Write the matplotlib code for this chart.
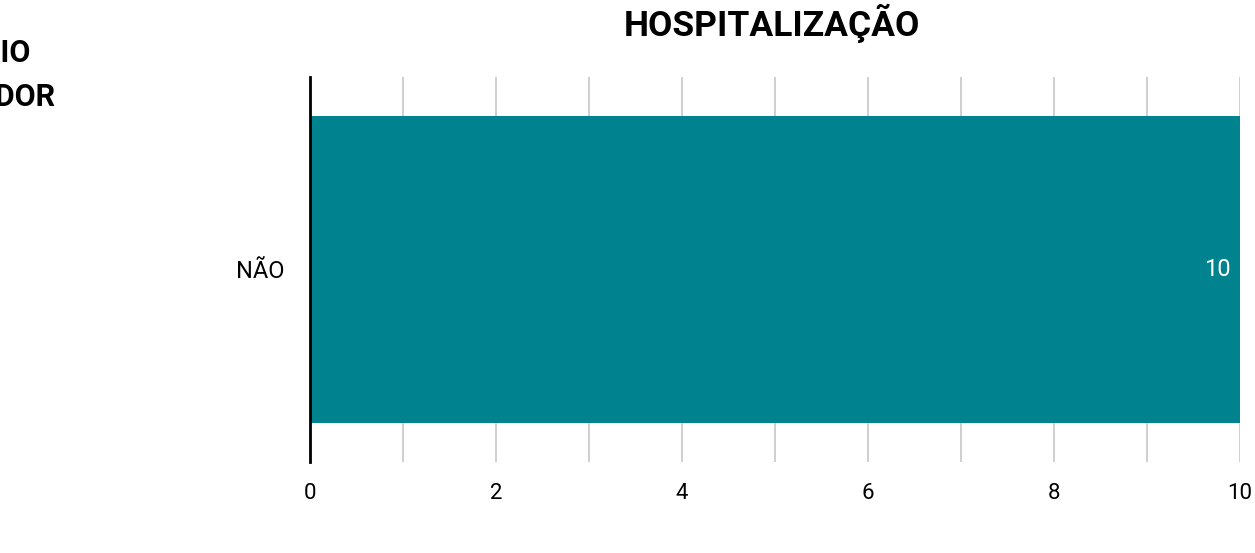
import matplotlib.pyplot as plt
from matplotlib.ticker import MultipleLocator

plt.rcParams['font.family'] = ['Roboto', 'DejaVu Sans']

# chart data
categories = ['NÃO']
values = [10]
title = 'HOSPITALIZAÇÃO'
side_title = 'RECEBEU AUXÍLIO\nDE OUTRO CUIDADOR'

fig = plt.figure(figsize=(12.55, 5.53), dpi=100)
ax = fig.add_axes([310 / 1255, 1 - 462 / 553, 930 / 1255, 385 / 553])

bars = ax.barh(categories, values, height=0.795, color='#00838F', zorder=2)
for bar, v in zip(bars, values):
    ax.text(bar.get_width() - 0.1, bar.get_y() + bar.get_height() / 2, str(v),
            ha='right', va='center', color='white', fontsize=17)

ax.set_xlim(0, 10)
ax.set_ylim(-0.5, 0.5)
ax.xaxis.set_major_locator(MultipleLocator(2))
ax.xaxis.set_minor_locator(MultipleLocator(1))
ax.grid(axis='x', which='both', color='#cccccc', linewidth=1.3, zorder=0)
ax.tick_params(axis='both', which='both', length=0, colors='black')
ax.tick_params(axis='x', labelsize=16, pad=15)
ax.tick_params(axis='y', labelsize=17, pad=18)
for s in ['top', 'right', 'bottom']:
    ax.spines[s].set_visible(False)
ax.spines['left'].set_linewidth(2)
ax.spines['left'].set_zorder(3)

fig.text(772 / 1255, 1 - 23 / 553, title, ha='center', va='center',
         fontsize=25.5, fontweight='bold')
fig.text(-96 / 1255, 1 - 75 / 553, side_title, ha='center', va='center',
         fontsize=22, fontweight='bold', linespacing=1.6, multialignment='center')

fig.savefig('out.png', dpi=100)
